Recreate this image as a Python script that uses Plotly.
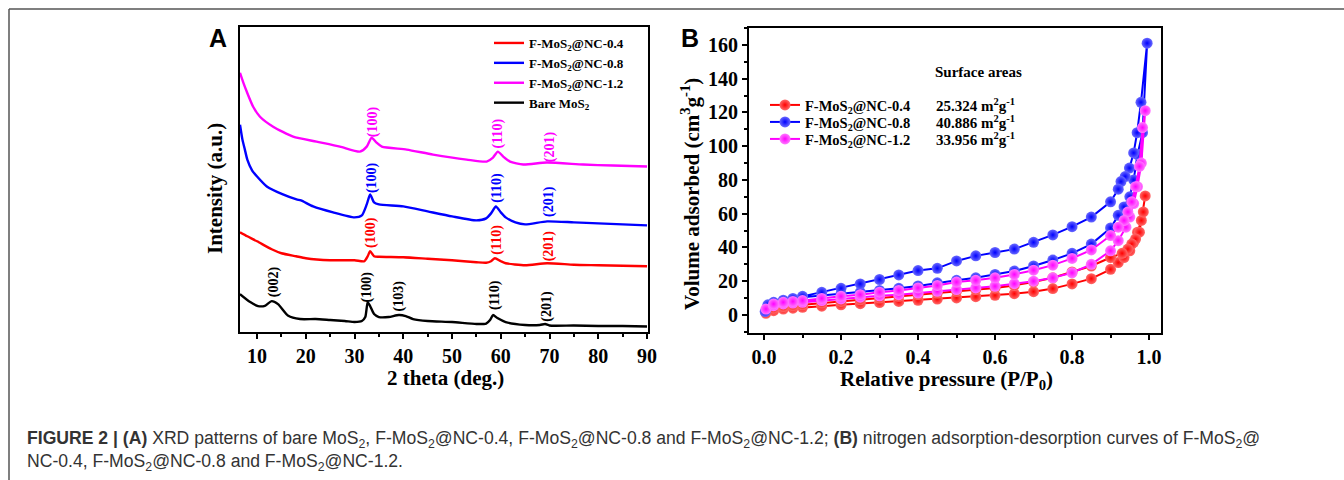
import plotly.graph_objects as go

# ---------------- Panel A: XRD patterns ----------------
theta_bare = [6.5, 8.6, 10.2, 11.6, 13.0, 14.3, 16.4, 18.8, 22, 25, 28, 30, 31.5, 32.2, 32.7, 33.2, 34.0, 35, 37, 39.1, 40.5, 42, 45, 50, 55, 57, 57.8, 58.4, 59.3, 61, 65, 68, 69.1, 70, 75, 80, 85, 90]
int_bare = [38, 30, 26, 26.3, 31, 28, 16.3, 13, 13, 12, 11, 10, 11, 15, 30, 26, 18, 15, 15, 17, 16, 13, 11, 10, 8, 8.5, 12, 17, 14, 10, 7, 7, 8, 6.5, 6.5, 6, 6, 5.5]

theta_04 = [6.5, 8, 10, 13, 15, 18, 20, 25, 30, 32, 32.7, 33.2, 34, 35, 40, 45, 50, 55, 57, 58, 58.8, 60, 61, 65, 69.5, 75, 80, 90]
int_04 = [100, 96, 91, 83, 79, 76, 74, 72, 72, 71, 76, 81, 76, 75.5, 75, 73.5, 72, 70, 69.5, 71, 74, 71, 69, 67, 69, 67.5, 67, 66]

theta_08 = [6.5, 7, 7.5, 8, 9, 10, 12, 15.3, 18.1, 19, 21.5, 25.6, 30, 31.5, 32.5, 33.2, 34, 35, 40, 45, 50, 55, 57, 58, 59, 60, 61, 63, 65, 69.5, 75, 80, 90]
int_08 = [208, 193, 183, 173, 162, 156, 146, 138, 133, 132, 126, 120, 115, 117, 128, 138, 130, 128, 126, 121, 116, 112, 114, 119, 126, 120, 115, 110, 108, 111, 110, 109, 107]

theta_12 = [6.5, 7.2, 7.9, 9.2, 10.6, 13.3, 17.4, 22.2, 27, 31.1, 32.5, 33.5, 34.5, 35.6, 40.7, 46.1, 53, 57.1, 58.4, 59.4, 60.5, 61.9, 64.6, 69.4, 76.9, 83, 90]
int_12 = [260, 250, 241, 226, 216, 206, 196, 191, 186, 181, 186, 195, 190, 186, 183, 178, 173, 171, 175, 181, 176, 171, 168, 170, 168, 167, 166]

# peak index labels
peak_text = ["(002)", "(100)", "(103)", "(110)", "(201)",
             "(100)", "(110)", "(201)",
             "(100)", "(110)", "(201)",
             "(100)", "(110)", "(201)"]
peak_theta = [13.5, 32.6, 39.2, 58.8, 69.4,
              33.5, 59.3, 69.9,
              33.5, 59.3, 70.0,
              33.7, 59.4, 70.0]
peak_pos = [50, 45, 36, 37, 26,
            100, 93, 86,
            155, 145, 131,
            211, 199, 186]
peak_series = ["bare"] * 5 + ["04"] * 3 + ["08"] * 3 + ["12"] * 3

x_ticks_a = [10, 20, 30, 40, 50, 60, 70, 80, 90]
x_ticks_b = [0.0, 0.2, 0.4, 0.6, 0.8, 1.0]
y_ticks_b = [0, 20, 40, 60, 80, 100, 120, 140, 160]

# ---------------- Panel B: N2 isotherms ----------------
p_ads_04 = [0.005, 0.025, 0.05, 0.075, 0.1, 0.15, 0.2, 0.25, 0.3, 0.35, 0.4, 0.45, 0.5, 0.55, 0.6, 0.65, 0.7, 0.75, 0.8, 0.85, 0.9, 0.92, 0.935, 0.95, 0.96, 0.97, 0.98, 0.99]
v_ads_04 = [1, 2.5, 3.5, 4, 4.5, 5.2, 6, 6.7, 7.3, 8, 8.7, 9.4, 10.1, 10.8, 11.6, 12.6, 13.8, 15.6, 18.4, 21.5, 27, 31, 34, 38, 43, 49, 56, 70.5]
p_des_04 = [0.985, 0.975, 0.965, 0.955, 0.945, 0.93, 0.9, 0.85, 0.8, 0.75, 0.7, 0.65, 0.6, 0.55, 0.5, 0.45, 0.4, 0.35, 0.3, 0.25, 0.2, 0.15, 0.1, 0.075, 0.05, 0.025]
v_des_04 = [61, 49, 45, 42, 39, 36.5, 34, 29, 25.5, 22, 19.5, 17.5, 16, 15, 14, 13, 12, 11, 10, 9, 8, 7, 6, 5.5, 5, 4]

p_ads_08 = [0.003, 0.01, 0.025, 0.05, 0.075, 0.1, 0.15, 0.2, 0.25, 0.3, 0.35, 0.4, 0.45, 0.5, 0.55, 0.6, 0.65, 0.7, 0.75, 0.8, 0.85, 0.9, 0.92, 0.935, 0.95, 0.96, 0.97, 0.983, 0.995]
v_ads_08 = [2, 5, 6.5, 8, 9, 10.5, 11.5, 12.5, 13.5, 14.5, 15.8, 17.2, 19, 20.5, 22, 24, 26, 29, 32.5, 36.5, 42, 51.5, 59, 64, 70, 80, 95, 108, 161]
p_des_08 = [0.979, 0.969, 0.96, 0.949, 0.938, 0.927, 0.92, 0.9, 0.85, 0.8, 0.75, 0.7, 0.65, 0.6, 0.55, 0.5, 0.45, 0.4, 0.35, 0.3, 0.25, 0.2, 0.15, 0.1, 0.075, 0.05, 0.025, 0.01]
v_des_08 = [126, 108, 96, 87, 82, 79, 74.5, 67, 58, 52.3, 47.4, 43, 39, 37, 35, 32, 27.6, 26.3, 23.7, 21, 18.4, 15.8, 13.4, 11, 9.8, 8.7, 7.5, 6]

p_ads_12 = [0.005, 0.025, 0.05, 0.075, 0.1, 0.15, 0.2, 0.25, 0.3, 0.35, 0.4, 0.45, 0.5, 0.55, 0.6, 0.65, 0.7, 0.75, 0.8, 0.85, 0.9, 0.92, 0.94, 0.95, 0.96, 0.97, 0.98, 0.99]
v_ads_12 = [3.5, 5.5, 6.5, 7, 7.5, 8.5, 9.5, 10.5, 11.3, 12, 13, 14, 15, 16, 17, 18.5, 20, 22, 25, 30, 38, 44, 52, 58, 66, 76, 90, 121]
p_des_12 = [0.983, 0.975, 0.965, 0.955, 0.945, 0.935, 0.92, 0.9, 0.85, 0.8, 0.75, 0.7, 0.65, 0.6, 0.55, 0.5, 0.45, 0.4, 0.35, 0.3, 0.25, 0.2, 0.15, 0.1, 0.075, 0.05, 0.025]
v_des_12 = [111, 88, 76, 67, 61, 56, 52, 47, 38.5, 33.5, 29.5, 26.5, 24, 22, 20.5, 19.5, 17.5, 16, 14.5, 13.5, 12, 11, 9.8, 8.5, 8, 7.5, 6.5]

surface_area_labels = ["25.324 m<sup>2</sup>g<sup>-1</sup>", "40.886 m<sup>2</sup>g<sup>-1</sup>", "33.956 m<sup>2</sup>g<sup>-1</sup>"]

names = {
    "04": "F-MoS<sub>2</sub>@NC-0.4",
    "08": "F-MoS<sub>2</sub>@NC-0.8",
    "12": "F-MoS<sub>2</sub>@NC-1.2",
    "bare": "Bare MoS<sub>2</sub>",
}
colors = {"04": "#ff0000", "08": "#0000ff", "12": "#ff00ff", "bare": "#000000"}
light = {"04": "#ff6a6a", "08": "#6a6aff", "12": "#ff7aff"}

SERIF = "Liberation Serif, Times New Roman, serif"
SANS = "Liberation Sans, Arial, sans-serif"
W, H = 1344, 480


def px(x):
    return x / W


def py(y):
    return 1 - y / H


fig = go.Figure()

# Panel A traces (legend order: 0.4, 0.8, 1.2, bare)
for key, xs, ys in [("04", theta_04, int_04), ("08", theta_08, int_08),
                    ("12", theta_12, int_12), ("bare", theta_bare, int_bare)]:
    fig.add_trace(go.Scatter(x=xs, y=ys, mode="lines", name=names[key],
                             line=dict(color=colors[key], width=2.4, shape="spline", smoothing=0.6),
                             xaxis="x", yaxis="y", legend="legend"))

# Panel B traces, each with its own one-entry legend
for key, pa, va, pd_, vd, lg in [("04", p_ads_04, v_ads_04, p_des_04, v_des_04, "legend2"),
                                 ("08", p_ads_08, v_ads_08, p_des_08, v_des_08, "legend3"),
                                 ("12", p_ads_12, v_ads_12, p_des_12, v_des_12, "legend4")]:
    fig.add_trace(go.Scatter(x=pa + pd_, y=va + vd, mode="lines+markers", name=names[key],
                             line=dict(color=colors[key], width=2),
                             marker=dict(size=11, color=light[key],
                                         gradient=dict(type="radial", color=colors[key]),
                                         line=dict(width=0)),
                             xaxis="x2", yaxis="y2", legend=lg))

annotations = []
for t, x, y, s in zip(peak_text, peak_theta, peak_pos, peak_series):
    annotations.append(dict(text=t, x=x, y=y, xref="x", yref="y", showarrow=False,
                            xanchor="center", yanchor="middle",
                            textangle=-90, font=dict(family=SERIF, size=14, color=colors[s], weight="bold")))


def note(text, x, y, size, family=SERIF, angle=0, xanchor="center", color="black", bold=True):
    annotations.append(dict(text=text, x=px(x), y=py(y), xref="paper", yref="paper", showarrow=False,
                            xanchor=xanchor, yanchor="middle", textangle=angle,
                            font=dict(family=family, size=size, color=color,
                                      weight="bold" if bold else "normal")))


# panel letters
note("A", 218, 38, 25, family=SANS)
note("B", 690, 38, 25, family=SANS)

# axis titles
note("2 theta (deg.)", 445, 378, 21)
note("Intensity (a.u.)", 215, 188, 21, angle=-90)
note("Relative pressure (P/P<sub>0</sub>)", 946, 380, 21)
note("Volume adsorbed (cm<sup>3</sup>g<sup>-1</sup>)", 690, 194, 21, angle=-90)

# surface areas block
note("Surface areas", 978, 72, 15)
for i, lab in enumerate(surface_area_labels):
    note(lab, 934, 105 + 17 * i, 15, xanchor="left")

# caption
cap1 = ("<b>FIGURE 2 | (A)</b> XRD patterns of bare MoS<sub>2</sub>, F-MoS<sub>2</sub>@NC-0.4, "
        "F-MoS<sub>2</sub>@NC-0.8 and F-MoS<sub>2</sub>@NC-1.2; <b>(B)</b> nitrogen adsorption-desorption "
        "curves of F-MoS<sub>2</sub>@")
cap2 = "NC-0.4, F-MoS<sub>2</sub>@NC-0.8 and F-MoS<sub>2</sub>@NC-1.2."
note(cap1, 25, 439, 17.6, family=SANS, xanchor="left", color="#333333", bold=False)
note(cap2, 25, 462, 17.6, family=SANS, xanchor="left", color="#333333", bold=False)

tickfont = dict(family=SERIF, size=20, color="black")
axis_common = dict(showline=True, linewidth=2, linecolor="black", mirror=True, showgrid=False,
                   zeroline=False, automargin=False, ticks="outside", ticklen=5, tickwidth=2,
                   tickcolor="black", tickfont=tickfont)

legend_font = dict(family=SERIF, size=13, color="black", weight="bold")
legend_font_b = dict(family=SERIF, size=14.5, color="black", weight="bold")


def legend_b(y):
    return dict(x=px(765), y=py(y), xanchor="left", yanchor="middle", bgcolor="rgba(0,0,0,0)",
                font=legend_font_b, itemwidth=30)


fig.update_layout(
    width=W, height=H,
    margin=dict(l=0, r=0, t=0, b=0),
    paper_bgcolor="white", plot_bgcolor="white",
    xaxis=dict(domain=[px(240), px(648)], anchor="y", range=[6.5, 90.2],
               tickvals=x_ticks_a, ticktext=["<b>%d</b>" % v for v in x_ticks_a],
               minor=dict(ticks="outside", ticklen=3, tickwidth=1.5, tickcolor="black", dtick=5, tick0=5),
               **axis_common),
    yaxis=dict(domain=[py(332), py(27)], anchor="x", range=[0, 306], showticklabels=False,
               showline=True, linewidth=2, linecolor="black", mirror=True, showgrid=False,
               zeroline=False, automargin=False, ticks=""),
    xaxis2=dict(domain=[px(749), px(1161)], anchor="y2", range=[-0.039, 1.031],
                tickvals=x_ticks_b, ticktext=["<b>%.1f</b>" % v for v in x_ticks_b],
                minor=dict(ticks="outside", ticklen=3, tickwidth=1.5, tickcolor="black", dtick=0.1, tick0=0),
                **axis_common),
    yaxis2=dict(domain=[py(333), py(28)], anchor="x2", range=[-10.7, 170],
                tickvals=y_ticks_b, ticktext=["<b>%d</b>" % v for v in y_ticks_b],
                minor=dict(ticks="outside", ticklen=3, tickwidth=1.5, tickcolor="black", dtick=10, tick0=0),
                **axis_common),
    legend=dict(x=px(489), y=py(28), xanchor="left", yanchor="top", bgcolor="rgba(0,0,0,0)",
                font=legend_font, traceorder="normal", tracegroupgap=0, itemwidth=30),
    legend2=legend_b(105),
    legend3=legend_b(122),
    legend4=legend_b(139),
    annotations=annotations,
    shapes=[
        dict(type="line", xref="paper", yref="paper", x0=px(9), x1=px(9), y0=0, y1=py(9),
             line=dict(color="#555555", width=1.5)),
        dict(type="line", xref="paper", yref="paper", x0=px(9), x1=1, y0=py(9), y1=py(9),
             line=dict(color="#555555", width=1.5)),
    ],
    showlegend=True,
)

fig.write_html("out.html")
